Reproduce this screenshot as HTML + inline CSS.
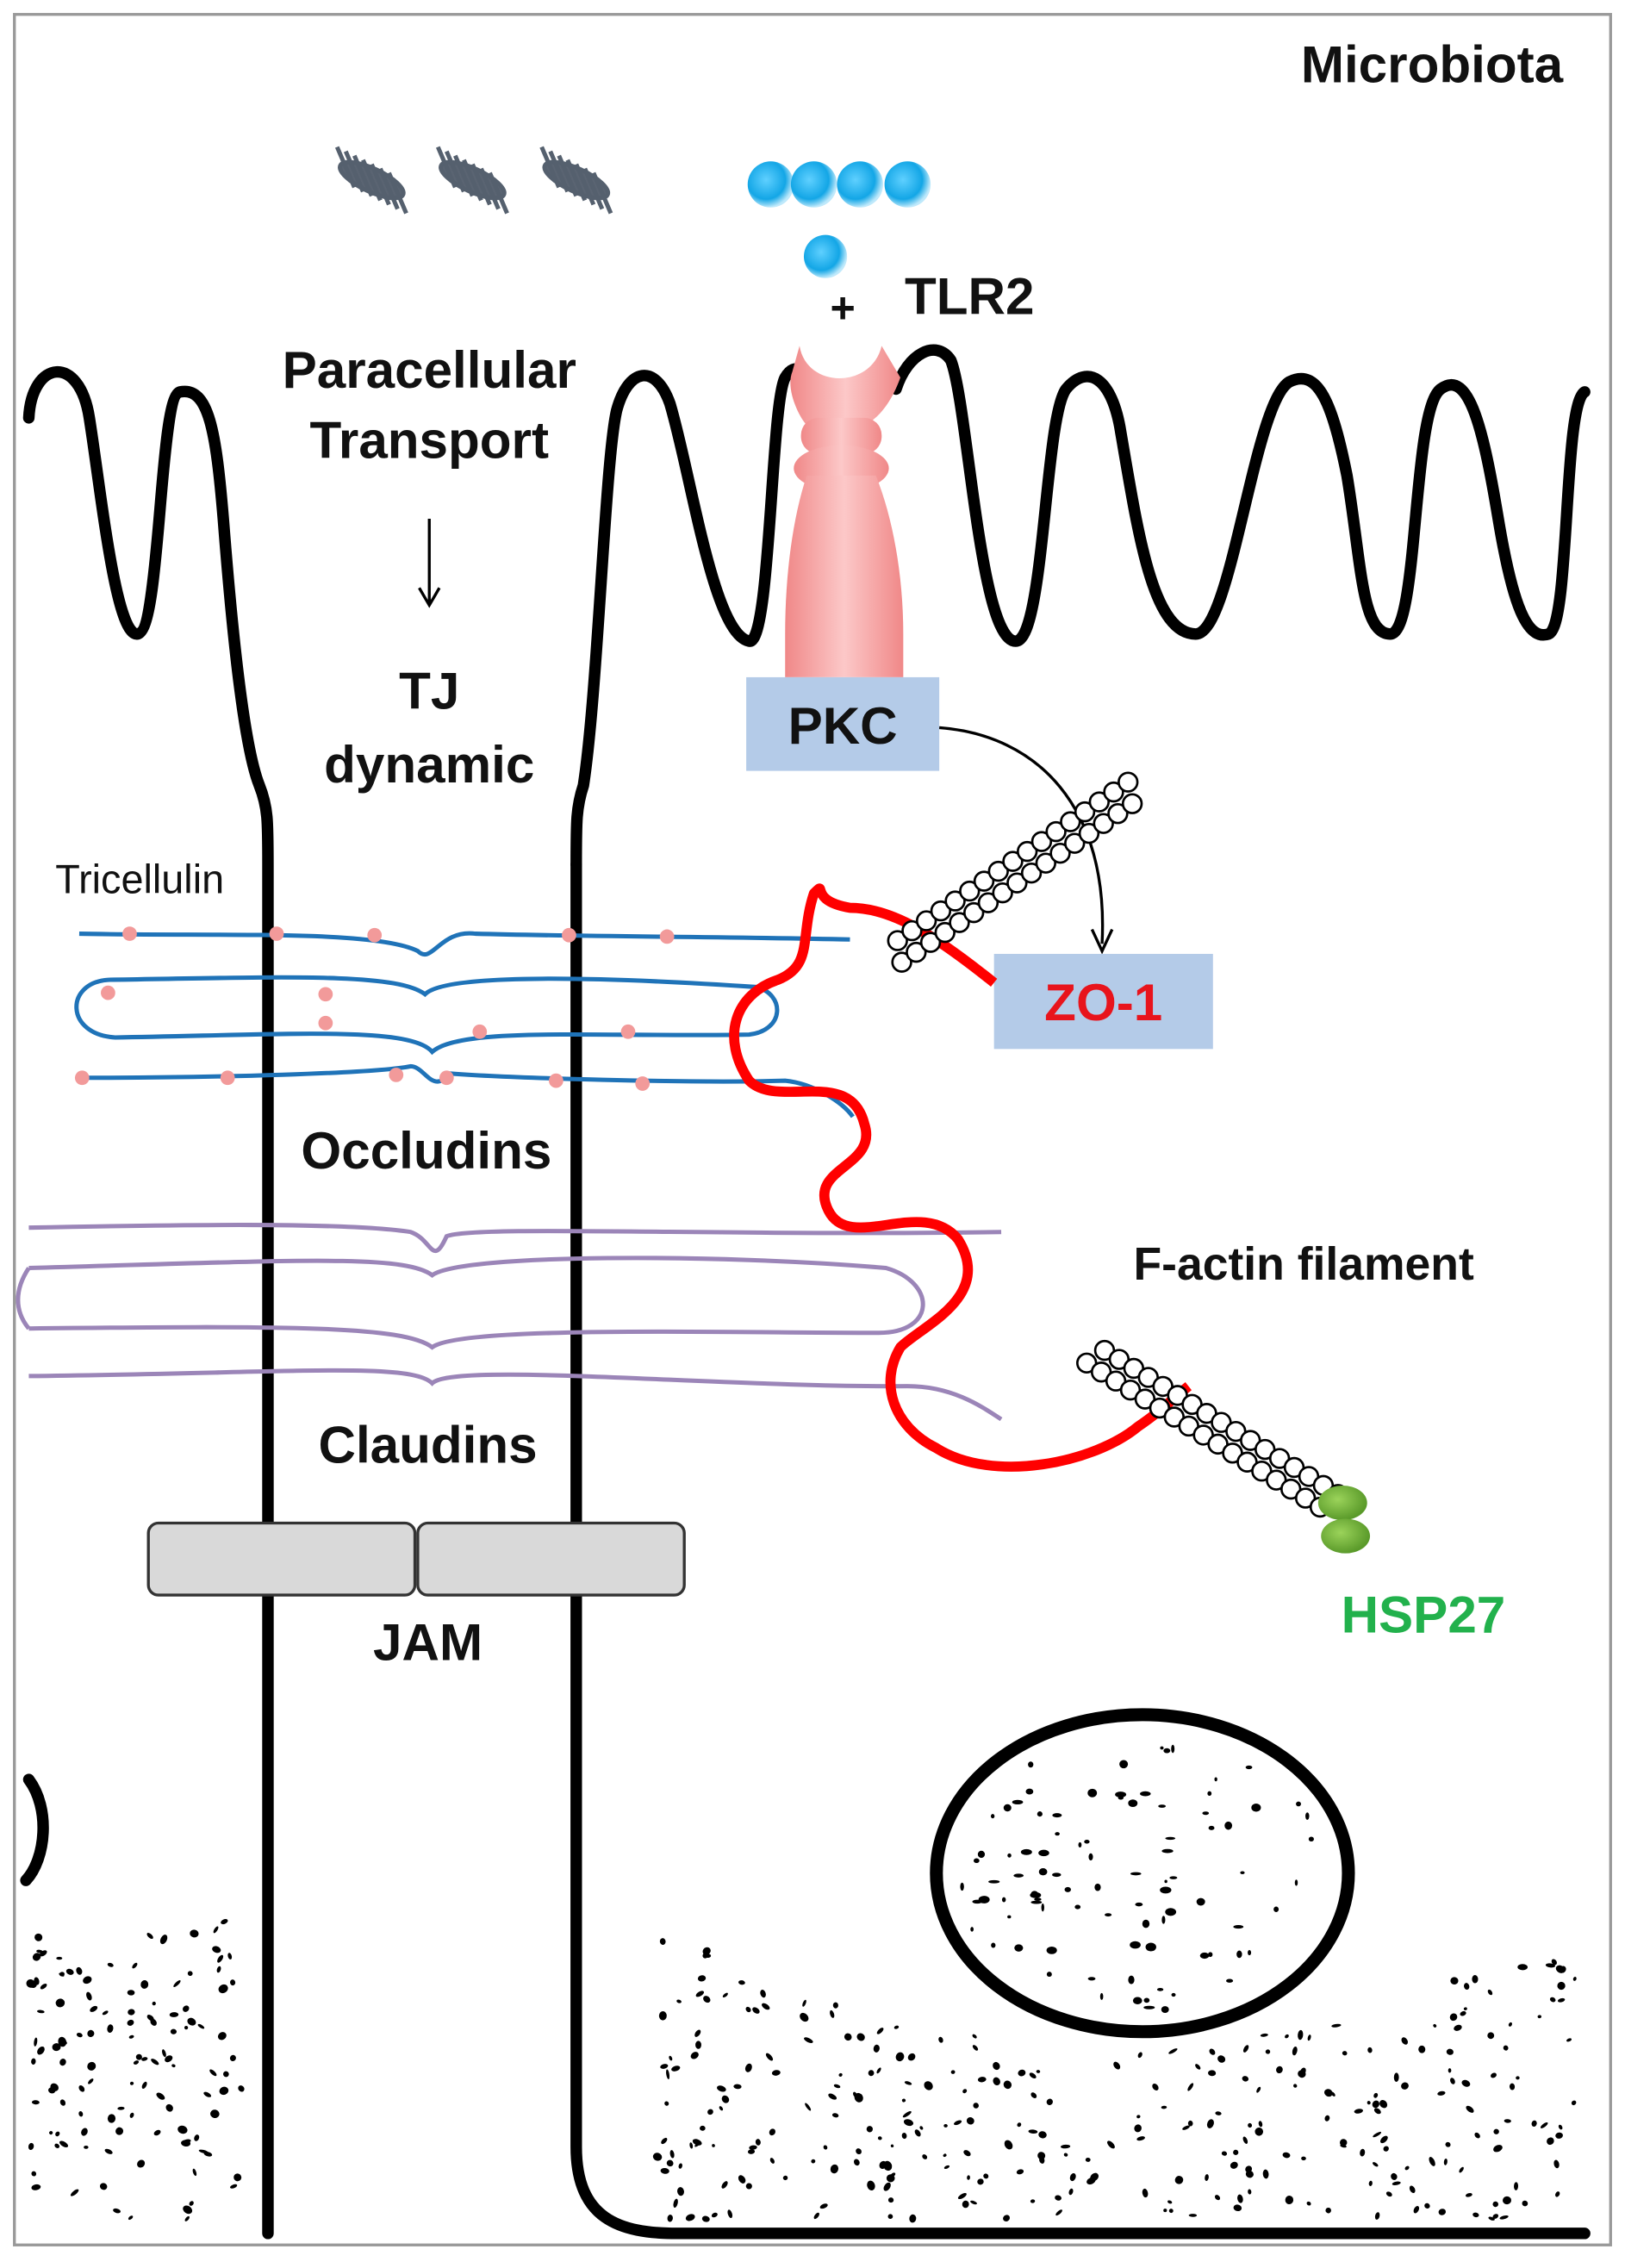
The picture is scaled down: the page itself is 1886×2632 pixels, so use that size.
<!DOCTYPE html>
<html><head><meta charset="utf-8"><style>
html,body{margin:0;padding:0;background:#fff}
svg{display:block}
text{font-family:"Liberation Sans",Arial,sans-serif;font-weight:bold;fill:#111}
</style></head><body>
<svg id="s" width="1886" height="2632" viewBox="0 0 1128 1574" preserveAspectRatio="none" xmlns="http://www.w3.org/2000/svg">
<defs>
<radialGradient id="bl" cx="40%" cy="40%" r="60%"><stop offset="0" stop-color="#5fd0ff"/><stop offset="0.7" stop-color="#13a6e6"/><stop offset="1" stop-color="#bfe9fb"/></radialGradient>
<linearGradient id="pk" x1="0" x2="1"><stop offset="0" stop-color="#f08888"/><stop offset="0.5" stop-color="#fcc8c8"/><stop offset="1" stop-color="#f08888"/></linearGradient>
<radialGradient id="gr" cx="40%" cy="40%" r="60%"><stop offset="0" stop-color="#9bd35a"/><stop offset="1" stop-color="#5a9a2a"/></radialGradient>
</defs>
<rect x="10" y="10" width="1108" height="1548" fill="#fff" stroke="#999" stroke-width="2"/>
<g id="speck"></g>
<g fill="none" stroke="#000" stroke-width="8" stroke-linecap="round" stroke-linejoin="round">
<path d="M20,290 C22,250 55,245 62,290 C70,340 80,440 95,440 C112,440 110,275 125,272 C145,268 150,300 155,360 C162,450 170,520 180,545 C186,560 186,570 186,600 L186,1550"/>
<path d="M400,600 C400,570 400,560 405,545 C415,480 420,320 428,285 C436,255 455,252 465,280 C480,330 495,440 520,445 C535,448 535,280 545,262 C552,250 560,258 562,270"/>
<path d="M622,270 C630,245 650,235 660,250 C672,280 680,445 705,445 C725,445 725,290 740,270 C755,252 772,262 778,300 C790,370 800,440 830,440 C855,440 870,280 895,265 C915,255 925,280 935,330 C945,390 945,440 965,440 C985,440 980,285 1000,270 C1020,255 1030,300 1040,360 C1050,420 1060,445 1075,440 C1090,435 1085,280 1100,272"/>
<path d="M400,600 L400,1490 C400,1540 430,1550 470,1550 L1100,1550"/>
<path d="M20,1235 C35,1255 32,1290 18,1305"/>
</g>
<ellipse cx="793" cy="1300" rx="143" ry="110" fill="#fff" stroke="#000" stroke-width="9"/>
<g id="nuc"></g>
<g stroke="#55606e" stroke-width="3">
<g id="bac"></g>
</g>
<g>
<circle cx="535" cy="128" r="16" fill="url(#bl)"/><circle cx="565" cy="128" r="16" fill="url(#bl)"/><circle cx="597" cy="128" r="16" fill="url(#bl)"/><circle cx="630" cy="128" r="16" fill="url(#bl)"/><circle cx="573" cy="178" r="15" fill="url(#bl)"/>
</g>
<text x="585" y="224" font-size="30" text-anchor="middle">+</text>
<text x="628" y="218" font-size="36">TLR2</text>
<text x="1085" y="57" font-size="36" text-anchor="end">Microbiota</text>
<path d="M555,240 C560,270 605,270 612,240 L625,262 C615,290 600,295 600,295 L560,295 C555,290 545,270 550,258Z" fill="url(#pk)"/>
<rect x="556" y="290" width="56" height="25" rx="12" fill="url(#pk)"/>
<ellipse cx="584" cy="325" rx="33" ry="16" fill="url(#pk)"/>
<path d="M560,330 C550,360 545,400 545,440 L545,470 L627,470 L627,440 C627,400 620,360 608,330Z" fill="url(#pk)"/>
<rect x="518" y="470" width="134" height="65" fill="#b4cbe8"/>
<text x="585" y="516" font-size="36" text-anchor="middle">PKC</text>
<path d="M652,505 C720,510 770,560 765,655" fill="none" stroke="#000" stroke-width="2"/>
<path d="M758,645 L765,660 L772,645" fill="none" stroke="#000" stroke-width="2"/>
<rect x="690" y="662" width="152" height="66" fill="#b4cbe8"/>
<text x="766" y="708" font-size="36" text-anchor="middle" style="fill:#e8141c">ZO-1</text>
<text x="298" y="269" font-size="36" text-anchor="middle">Paracellular</text>
<text x="298" y="318" font-size="36" text-anchor="middle">Transport</text>
<path d="M298,360 L298,418 M291,408 L298,420 L305,408" stroke="#000" stroke-width="2" fill="none"/>
<text x="298" y="492" font-size="36" text-anchor="middle">TJ</text>
<text x="298" y="543" font-size="36" text-anchor="middle">dynamic</text>
<text x="97" y="620" font-size="28" text-anchor="middle" style="font-weight:normal">Tricellulin</text>
<g fill="none" stroke="#9b85b8" stroke-width="3">
<path d="M20,852 C120,850 240,848 285,855 C300,860 300,880 310,858 C330,850 500,858 695,855"/>
<path d="M20,880 C200,875 280,870 300,885 C320,870 500,870 615,880 C650,890 650,925 610,925 C500,925 320,920 300,935 C280,920 200,920 20,922"/>
<path d="M20,880 C10,895 10,910 20,922"/>
<path d="M20,955 C200,953 285,945 300,960 C315,945 500,963 630,962 C660,962 680,975 695,985"/>
</g>
<g fill="none" stroke="#1f73b8" stroke-width="3">
<path d="M55,648 C150,650 260,645 290,660 C300,670 305,645 330,648 C400,650 500,650 590,652"/>
<path d="M75,680 C200,678 275,675 295,690 C310,675 420,678 525,685 C545,690 545,715 520,718 C420,720 320,712 300,730 C285,712 200,718 80,720 C45,718 45,682 75,680Z"/>
<path d="M55,748 C150,748 260,745 285,740 C295,740 300,760 312,745 C350,748 480,752 545,750 C565,752 585,765 592,775"/>
</g>
<g fill="#f29a9a">
<circle cx="90" cy="648" r="5"/><circle cx="192" cy="648" r="5"/><circle cx="260" cy="649" r="5"/><circle cx="395" cy="649" r="5"/><circle cx="463" cy="650" r="5"/>
<circle cx="75" cy="689" r="5"/><circle cx="226" cy="690" r="5"/><circle cx="226" cy="710" r="5"/><circle cx="333" cy="716" r="5"/><circle cx="436" cy="716" r="5"/>
<circle cx="57" cy="748" r="5"/><circle cx="158" cy="748" r="5"/><circle cx="275" cy="746" r="5"/><circle cx="310" cy="748" r="5"/><circle cx="386" cy="750" r="5"/><circle cx="446" cy="752" r="5"/>
</g>
<text x="296" y="811" font-size="36" text-anchor="middle">Occludins</text>
<text x="297" y="1015" font-size="36" text-anchor="middle">Claudins</text>
<rect x="103" y="1057" width="185" height="50" rx="7" fill="#d9d9d9" stroke="#333" stroke-width="2"/>
<rect x="290" y="1057" width="185" height="50" rx="7" fill="#d9d9d9" stroke="#333" stroke-width="2"/>
<text x="297" y="1152" font-size="36" text-anchor="middle">JAM</text>
<path d="M690,682 C650,650 620,630 590,630 C560,625 575,610 565,620 C555,650 565,670 540,680 C510,690 500,720 520,750 C540,770 590,740 600,780 C610,810 560,810 575,840 C590,870 640,830 665,860 C690,900 640,920 625,935 C610,960 620,990 650,1005 C690,1030 760,1015 790,990 C805,980 815,970 825,962" fill="none" stroke="#f00" stroke-width="7" stroke-linejoin="round"/>
<g id="act" fill="#fff" stroke="#000" stroke-width="1.6"></g>
<ellipse cx="932" cy="1043" rx="17" ry="12" fill="url(#gr)"/>
<ellipse cx="934" cy="1066" rx="17" ry="12" fill="url(#gr)"/>
<text x="905" y="888" font-size="32" text-anchor="middle">F-actin filament</text>
<text x="988" y="1133" font-size="36" text-anchor="middle" style="fill:#22b14c">HSP27</text>
</svg>
<script>
var ns="http://www.w3.org/2000/svg";
function el(p,t,a){var e=document.createElementNS(ns,t);for(var k in a)e.setAttribute(k,a[k]);p.appendChild(e);return e;}
var seed=7;function r(){seed=(seed*16807)%2147483647;return seed/2147483647;}
var act=document.getElementById('act');
function chain(x1,y1,x2,y2,n){var dx=(x2-x1)/n,dy=(y2-y1)/n,len=Math.hypot(dx,dy),nx=-dy/len*7,ny=dx/len*7;
for(var i=0;i<=n;i++){el(act,'circle',{cx:x1+dx*i+nx,cy:y1+dy*i+ny,r:6.5});el(act,'circle',{cx:x1+dx*(i+0.5)-nx,cy:y1+dy*(i+0.5)-ny,r:6.5});}}
chain(622,662,782,552,16);chain(758,940,920,1040,16);
var bac=document.getElementById('bac');
[258,328,400].forEach(function(cx){var cy=125;
el(bac,'ellipse',{cx:cx,cy:cy,rx:24,ry:8,fill:'#5a6472',transform:'rotate(25 '+cx+' '+cy+')'});
for(var i=-3;i<=3;i++){var bx=cx+i*6,by=cy+i*3;el(bac,'line',{x1:bx-6,y1:by-14,x2:bx+6,y2:by+14});}
});
var sp=document.getElementById('speck');
function speck(n,f){for(var i=0;i<n;i++){var x,y,t=0;do{x=r()*1128;y=r()*1574;t++;}while(!f(x,y)&&t<200);
if(f(x,y))el(sp,'ellipse',{cx:x,cy:y,rx:1+r()*2.5,ry:1+r()*2,fill:'#000',transform:'rotate('+(r()*180)+' '+x+' '+y+')'});}}
speck(120,function(x,y){return x>20&&x<170&&y>1330&&y<1540;});
speck(300,function(x,y){if(x<455||x>1095||y>1540)return false;var d=((x-775)/330);var t=1330+(1-d*d)*90;return y>t&&y>1330;});
var nuc=document.getElementById('nuc');
for(var i=0;i<90;i++){var a=r()*6.283,rr=Math.sqrt(r());var x=793+Math.cos(a)*rr*130,y=1300+Math.sin(a)*rr*98;
el(nuc,'ellipse',{cx:x,cy:y,rx:1+r()*3,ry:1+r()*2,fill:'#000'});}
</script>
</body></html>
